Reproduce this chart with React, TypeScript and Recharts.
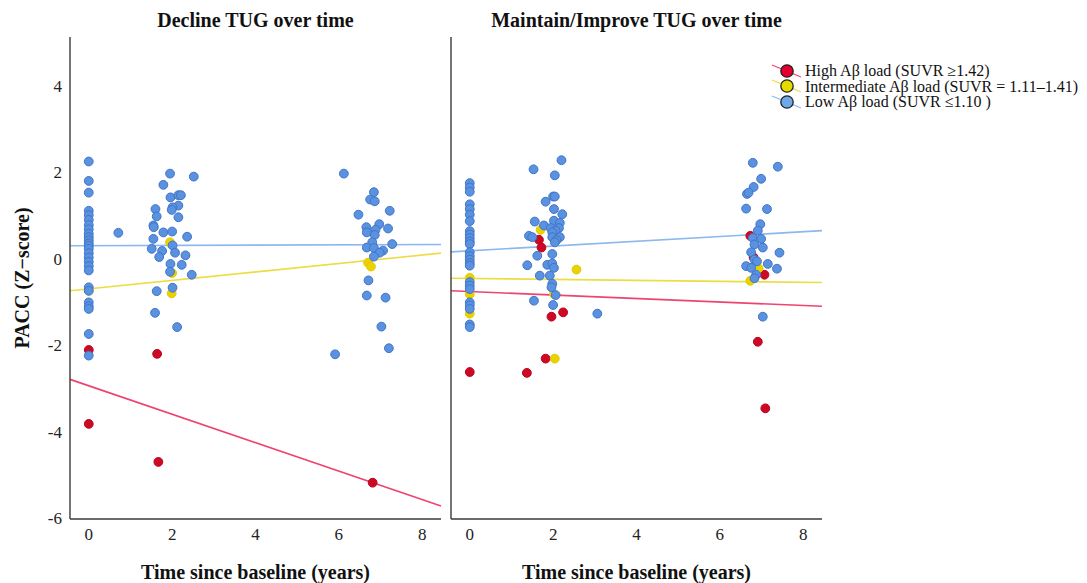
import React from 'react';
import { ScatterChart, Scatter, XAxis, YAxis, ReferenceLine, Label } from 'recharts';

const FONT = '"Liberation Serif", "Times New Roman", serif';

const xTicks = [0, 2, 4, 6, 8];
const yTicks = [-6, -4, -2, 0, 2, 4];
const xDomain: [number, number] = [-0.45, 8.45];
const yDomain: [number, number] = [-6, 5.15];

const panelTitles = ['Decline TUG over time', 'Maintain/Improve TUG over time'];
const xAxisTitle = 'Time since baseline (years)';
const yAxisTitle = 'PACC (Z\u2212score)';
const groupNames = [
  'High A\u03b2 load (SUVR \u22651.42)',
  'Intermediate A\u03b2 load (SUVR = 1.11\u20131.41)',
  'Low A\u03b2 load (SUVR \u22641.10 )',
];

// points: [years since baseline, PACC z-score]
const declineLow: [number, number][] = [
  [0, 2.27], [0, 1.82], [0, 1.55], [0, 1.13], [0, 1.03], [0, 0.92], [0, 0.8], [0, 0.7], [0, 0.6],
  [0, 0.52], [0, 0.45], [0, 0.38], [0, 0.32], [0, 0.25], [0, 0.15], [0, 0.05], [0, -0.05], [0, -0.15],
  [0, -0.25], [0, -0.64], [0, -0.72], [0, -0.99], [0, -1.08], [0, -1.14], [0, -1.72], [0, -2.22],
  [0.71, 0.62],
  [1.95, 1.99], [2.52, 1.92], [1.79, 1.73], [1.96, 1.44], [2.15, 1.49], [2.21, 1.49], [2.15, 1.25],
  [2.01, 1.21], [1.6, 1.17], [1.99, 1.15], [1.63, 1.0], [2.15, 0.98], [1.55, 0.79], [1.56, 0.75],
  [1.79, 0.63], [2.0, 0.65], [2.36, 0.53], [1.55, 0.48], [2.01, 0.33], [1.51, 0.25], [1.76, 0.2],
  [2.07, 0.16], [1.69, 0.06], [2.32, 0.1], [1.96, -0.1], [2.23, -0.12], [1.95, -0.28], [2.47, -0.35],
  [1.63, -0.73], [2.01, -0.65], [1.59, -1.23], [2.12, -1.56],
  [6.12, 1.99], [6.84, 1.56], [6.75, 1.39], [6.86, 1.35], [7.22, 1.13], [6.47, 1.04], [6.66, 0.75],
  [6.97, 0.82], [6.88, 0.69], [7.18, 0.72], [6.67, 0.63], [6.86, 0.57], [6.8, 0.4], [7.28, 0.36],
  [6.67, 0.28], [6.84, 0.27], [7.06, 0.21], [6.98, 0.16], [6.84, 0.07], [6.71, -0.48], [6.67, -0.83],
  [7.12, -0.88], [7.02, -1.55], [7.2, -2.05], [5.91, -2.19],
];
const declineMid: [number, number][] = [
  [0, -0.72], [1.95, 0.4], [2.0, -0.31], [1.99, -0.78], [6.7, -0.07], [6.77, -0.16],
];
const declineHigh: [number, number][] = [
  [0, -2.09], [0, -3.8], [1.64, -2.18], [1.67, -4.68], [6.81, -5.16],
];

const maintainLow: [number, number][] = [
  [0, 1.77], [0, 1.67], [0, 1.57], [0, 1.28], [0, 1.17], [0, 1.04], [0, 0.89], [0, 0.66], [0, 0.58],
  [0, 0.5], [0, 0.42], [0, 0.36], [0, 0.17], [0, 0.08], [0, 0.0], [0, -0.08], [0, -0.14], [0, -0.52],
  [0, -0.6], [0, -0.68], [0, -0.99], [0, -1.06], [0, -1.14], [0, -1.5], [0, -1.56],
  [2.2, 2.3], [1.53, 2.09], [2.04, 1.95], [2.0, 1.46], [2.04, 1.46], [1.82, 1.34], [2.02, 1.17],
  [2.22, 1.05], [1.56, 0.88], [2.02, 0.9], [2.16, 0.85], [1.78, 0.79], [1.94, 0.73], [2.14, 0.73],
  [2.06, 0.67], [1.98, 0.63], [1.42, 0.55], [1.5, 0.52], [1.98, 0.52], [2.16, 0.52], [2.08, 0.45],
  [2.04, 0.4], [1.62, 0.09], [1.98, 0.13], [1.38, -0.13], [1.86, -0.12], [1.98, -0.09], [2.02, -0.19],
  [1.68, -0.37], [1.92, -0.37], [1.98, -0.56], [1.96, -0.64], [2.06, -0.82], [1.54, -0.95], [2.0, -1.05],
  [3.06, -1.25],
  [6.79, 2.24], [7.39, 2.15], [6.99, 1.87], [6.81, 1.68], [6.65, 1.52], [6.69, 1.55], [6.63, 1.18],
  [7.13, 1.17], [6.97, 0.82], [6.91, 0.67], [6.79, 0.5], [6.99, 0.48], [6.83, 0.35], [7.03, 0.28],
  [6.75, 0.17], [7.43, 0.16], [6.83, 0.0], [6.89, -0.04], [6.63, -0.15], [6.75, -0.19], [7.15, -0.1],
  [7.37, -0.21], [6.87, -0.35], [6.83, -0.43], [7.03, -1.32],
];
const maintainMid: [number, number][] = [
  [0, -0.42], [0, -0.8], [0, -1.25], [1.7, 0.69], [2.56, -0.23], [2.02, -0.8], [2.04, -2.29],
  [6.93, -0.2], [6.73, -0.49],
];
const maintainHigh: [number, number][] = [
  [0, -2.6], [1.66, 0.46], [1.72, 0.28], [2.24, -1.22], [1.96, -1.32], [1.82, -2.29], [1.37, -2.62],
  [6.73, 0.55], [6.81, 0.05], [7.07, -0.35], [6.91, -1.9], [7.09, -3.44],
];

// fitted lines: PACC value at the left and right edge of the x domain
const declineFitHigh = [-2.77, -5.7];
const declineFitMid = [-0.72, 0.15];
const declineFitLow = [0.32, 0.35];
const maintainFitHigh = [-0.72, -1.08];
const maintainFitMid = [-0.43, -0.53];
const maintainFitLow = [0.18, 0.67];

const pointFill = ['#CC0A24', '#EAD200', '#5B92E0'];
const pointStroke = ['#C00020', '#E2CB00', '#3F74C9'];
const lineColor = ['#EE4470', '#ECDD45', '#8BB8EE'];
const legendFill = ['#E3002E', '#E8DA00', '#6DA8EA'];

const toData = (pts: [number, number][]) => pts.map(([x, y]) => ({ x, y }));

const makeShape = (i: number) => (p: any) => (
  <circle cx={p.cx} cy={p.cy} r={4.4} fill={pointFill[i]} stroke={pointStroke[i]} strokeWidth={1} />
);

const axisStroke = '#3a3a3a';

const XTick = (p: any) => (
  <text x={p.x} y={p.y} dy={13} textAnchor="middle" fill="#222" fontSize={17} fontFamily={FONT}>
    {p.payload.value}
  </text>
);

const YTick = (p: any) => (
  <text x={p.x} y={p.y} dy={5} textAnchor="end" fill="#222" fontSize={17} fontFamily={FONT}>
    {p.payload.value}
  </text>
);

function Panel(props: {
  width: number;
  yWidth: number;
  showYTicks: boolean;
  groups: [number, number][][];
  fits: number[][];
}) {
  const { width, yWidth, showYTicks, groups, fits } = props;
  return (
    <ScatterChart width={width} height={583} margin={{ top: 37, right: 9, bottom: 0, left: 0 }}>
      <XAxis
        type="number"
        dataKey="x"
        domain={xDomain}
        ticks={xTicks}
        allowDataOverflow
        height={64}
        tickLine={false}
        tickSize={0}
        tickMargin={8}
        axisLine={{ stroke: axisStroke, strokeWidth: 1.4 }}
        tick={<XTick />}
      >
        <Label
          value={xAxisTitle}
          position="insideBottom"
          offset={4}
          style={{ fontFamily: FONT, fontSize: 20, fontWeight: 'bold', fill: '#111' }}
        />
      </XAxis>
      <YAxis
        type="number"
        dataKey="y"
        domain={yDomain}
        ticks={yTicks}
        allowDataOverflow
        width={yWidth}
        tickLine={false}
        tickSize={0}
        tickMargin={8}
        tick={showYTicks ? <YTick /> : false}
        axisLine={{ stroke: axisStroke, strokeWidth: 1.4 }}
      >
        {showYTicks && (
          <Label
            value={yAxisTitle}
            angle={-90}
            position="insideLeft"
            offset={22}
            style={{ fontFamily: FONT, fontSize: 20, fontWeight: 'bold', fill: '#111', textAnchor: 'middle' }}
          />
        )}
      </YAxis>
      {groups.map((g, i) => (
        <Scatter
          key={i}
          name={groupNames[i]}
          data={toData(g)}
          isAnimationActive={false}
          shape={makeShape(i)}
        />
      ))}
      {fits.map((f, i) => (
        <ReferenceLine
          key={'f' + i}
          segment={[
            { x: xDomain[0], y: f[0] },
            { x: xDomain[1], y: f[1] },
          ]}
          stroke={lineColor[i]}
          strokeWidth={1.6}
          ifOverflow="visible"
        />
      ))}
    </ScatterChart>
  );
}

function LegendIcon({ i }: { i: number }) {
  return (
    <svg width={34} height={16} style={{ display: 'block', flex: 'none' }}>
      <line x1={2} y1={2} x2={31} y2={14} stroke={lineColor[i]} strokeWidth={1.3} />
      <circle cx={17} cy={8} r={6.2} fill={legendFill[i]} stroke="#222" strokeWidth={1.3} />
    </svg>
  );
}

export default function App() {
  return (
    <div style={{ position: 'absolute', left: 0, top: 0, width: 1087, height: 583, background: '#fff', fontFamily: FONT }}>
      <div style={{ position: 'absolute', left: 70, top: 8, width: 371, textAlign: 'center', fontSize: 20, fontWeight: 'bold', color: '#111', lineHeight: '24px' }}>
        {panelTitles[0]}
      </div>
      <div style={{ position: 'absolute', left: 451, top: 8, width: 371, textAlign: 'center', fontSize: 20, fontWeight: 'bold', color: '#111', lineHeight: '24px' }}>
        {panelTitles[1]}
      </div>
      <div style={{ position: 'absolute', left: 0, top: 0 }}>
        <Panel
          width={450}
          yWidth={70}
          showYTicks
          groups={[declineHigh, declineMid, declineLow]}
          fits={[declineFitHigh, declineFitMid, declineFitLow]}
        />
      </div>
      <div style={{ position: 'absolute', left: 441, top: 0 }}>
        <Panel
          width={390}
          yWidth={10}
          showYTicks={false}
          groups={[maintainHigh, maintainMid, maintainLow]}
          fits={[maintainFitHigh, maintainFitMid, maintainFitLow]}
        />
      </div>
      <div style={{ position: 'absolute', left: 770, top: 63 }}>
        {groupNames.map((n, i) => (
          <div key={n} style={{ display: 'flex', alignItems: 'center', height: 15.5 }}>
            <LegendIcon i={i} />
            <span style={{ marginLeft: 1, fontSize: 16, color: '#111', whiteSpace: 'nowrap', lineHeight: '15.5px' }}>{n}</span>
          </div>
        ))}
      </div>
    </div>
  );
}
